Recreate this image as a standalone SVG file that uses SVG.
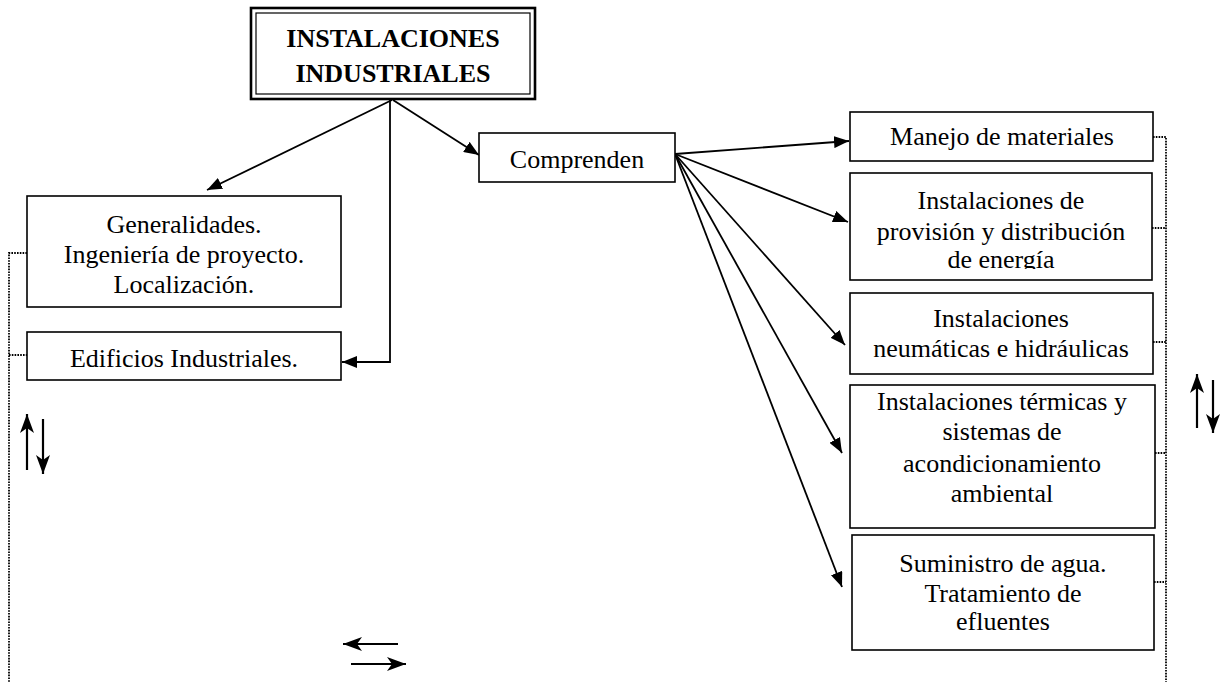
<svg xmlns="http://www.w3.org/2000/svg" width="1229" height="682" viewBox="0 0 1229 682">
<style>
.box{fill:#fff;stroke:#000;stroke-width:1.6}
.t{font-family:"Liberation Serif","Times New Roman",serif;font-size:26px;fill:#000;text-anchor:middle}
.b{font-weight:bold}
.c{fill:none;stroke:#000;stroke-width:1.8}
.c2{fill:none;stroke:#000;stroke-width:2.2}
.d{fill:none;stroke:#000;stroke-width:1.8;stroke-dasharray:1.6 1.2}
</style>
<defs>
<marker id="ah" markerUnits="userSpaceOnUse" markerWidth="16" markerHeight="12" refX="15" refY="6" orient="auto">
<path d="M0,0 L15,6 L0,12 z" fill="#000"/>
</marker>
<marker id="ah2" markerUnits="userSpaceOnUse" markerWidth="20" markerHeight="14" refX="19" refY="7" orient="auto">
<path d="M0,0 L19,7 L0,14 L5,7 z" fill="#000"/>
</marker>
<clipPath id="cl1"><rect x="850" y="112" width="304" height="38"/></clipPath>
<clipPath id="cl2"><rect x="850" y="173" width="304" height="96"/></clipPath>
</defs>

<g id="connectors">
<line class="c" x1="392" y1="100" x2="207" y2="190" marker-end="url(#ah)"/>
<polyline class="c" points="390,100 390,362 342,362" marker-end="url(#ah)"/>
<line class="c" x1="393" y1="100" x2="479" y2="155" marker-end="url(#ah)"/>
<line class="c" x1="675" y1="154" x2="849" y2="141" marker-end="url(#ah)"/>
<line class="c" x1="675" y1="154" x2="848" y2="222" marker-end="url(#ah)"/>
<line class="c" x1="675" y1="154" x2="845" y2="345" marker-end="url(#ah)"/>
<line class="c" x1="675" y1="154" x2="842" y2="453" marker-end="url(#ah)"/>
<line class="c" x1="675" y1="154" x2="842" y2="587" marker-end="url(#ah)"/>
<polyline class="d" points="27,253 9,253 9,682"/>
<line class="d" x1="9" y1="355" x2="27" y2="355"/>
<polyline class="d" points="1153,137 1166,137 1166,682"/>
<line class="d" x1="1152" y1="228" x2="1166" y2="228"/>
<line class="d" x1="1153" y1="342" x2="1166" y2="342"/>
<line class="d" x1="1155" y1="453" x2="1166" y2="453"/>
<line class="d" x1="1154" y1="582" x2="1166" y2="582"/>
<line class="c2" x1="27" y1="470" x2="27" y2="414" marker-end="url(#ah2)"/>
<line class="c2" x1="43" y1="419" x2="43" y2="474" marker-end="url(#ah2)"/>
<line class="c2" x1="1197" y1="428" x2="1197" y2="374" marker-end="url(#ah2)"/>
<line class="c2" x1="1213" y1="380" x2="1213" y2="433" marker-end="url(#ah2)"/>
<line class="c2" x1="398" y1="644" x2="343" y2="644" marker-end="url(#ah2)"/>
<line class="c2" x1="351" y1="664" x2="406" y2="664" marker-end="url(#ah2)"/>
</g>

<g id="n-title">
<rect x="251" y="8" width="284" height="91" fill="#fff" stroke="#000" stroke-width="2.6"/>
<rect x="256" y="13" width="274" height="81" fill="none" stroke="#000" stroke-width="1.2"/>
<text class="t b" x="393" y="47">INSTALACIONES</text>
<text class="t b" x="393" y="82">INDUSTRIALES</text>
</g>

<g id="n-generalidades">
<rect class="box" x="27" y="196" width="314" height="111"/>
<text class="t" x="184" y="233">Generalidades.</text>
<text class="t" x="184" y="263">Ingeniería de proyecto.</text>
<text class="t" x="184" y="293">Localización.</text>
</g>

<g id="n-edificios">
<rect class="box" x="27" y="332" width="314" height="48"/>
<text class="t" x="184" y="367">Edificios Industriales.</text>
</g>

<g id="n-comprenden">
<rect class="box" x="479" y="133" width="196" height="49"/>
<text class="t" x="577" y="168">Comprenden</text>
</g>

<g id="n-manejo">
<rect class="box" x="850" y="112" width="303" height="49"/>
<text class="t" x="1002" y="145" clip-path="url(#cl1)">Manejo de materiales</text>
</g>

<g id="n-provision">
<rect class="box" x="850" y="173" width="302" height="107"/>
<g clip-path="url(#cl2)">
<text class="t" x="1001" y="209">Instalaciones de</text>
<text class="t" x="1001" y="240">provisión y distribución</text>
<text class="t" x="1001" y="268">de energía</text>
</g>
</g>

<g id="n-neumaticas">
<rect class="box" x="850" y="293" width="303" height="81"/>
<text class="t" x="1001" y="327">Instalaciones</text>
<text class="t" x="1001" y="357">neumáticas e hidráulicas</text>
</g>

<g id="n-termicas">
<rect class="box" x="850" y="385" width="305" height="143"/>
<text class="t" x="1002" y="410">Instalaciones térmicas y</text>
<text class="t" x="1002" y="440">sistemas de</text>
<text class="t" x="1002" y="472">acondicionamiento</text>
<text class="t" x="1002" y="502">ambiental</text>
</g>

<g id="n-suministro">
<rect class="box" x="852" y="535" width="302" height="115"/>
<text class="t" x="1003" y="572">Suministro de agua.</text>
<text class="t" x="1003" y="602">Tratamiento de</text>
<text class="t" x="1003" y="630">efluentes</text>
</g>
</svg>
